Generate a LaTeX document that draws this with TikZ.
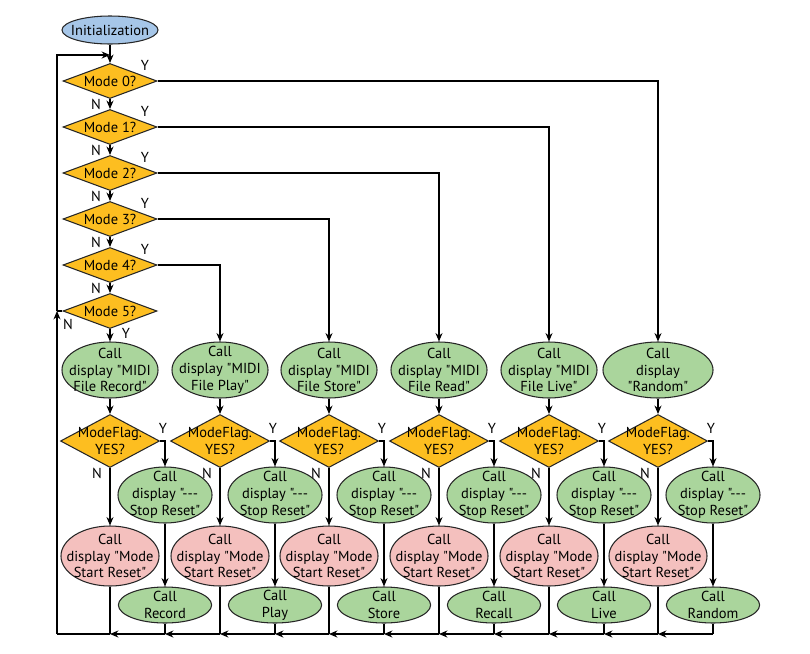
\documentclass[tikz,border=0pt]{standalone}
\usepackage{fontspec}
\setmainfont{PT Sans}[Ligatures=TeXOff]
\usetikzlibrary{shapes.geometric,arrows.meta}

\definecolor{initblue}{RGB}{166,198,232}
\definecolor{modegold}{RGB}{253,190,32}
\definecolor{callgreen}{RGB}{170,213,156}
\definecolor{resetpink}{RGB}{244,192,190}

\tikzset{
    wire/.style={line width=0.75pt},
    link/.style={wire, -{Stealth[length=6pt,width=5pt]}},
    boxline/.style={draw=black!85, line width=0.75pt, inner sep=-10pt, align=center,
        font=\fontsize{10.3}{12}\selectfont},
    oval/.style={boxline, ellipse},
    initoval/.style={oval, fill=initblue, minimum width=2.4cm, minimum height=0.7cm},
    showoval/.style={oval, fill=callgreen, minimum width=2.4cm, minimum height=1.4cm},
    stopoval/.style={oval, fill=callgreen, minimum width=2.35cm, minimum height=1.4cm},
    startoval/.style={oval, fill=resetpink, minimum width=2.45cm, minimum height=1.5cm},
    actoval/.style={oval, fill=callgreen, minimum width=2.33cm, minimum height=0.9cm},
    modebox/.style={boxline, diamond, fill=modegold, minimum width=2.35cm, minimum height=0.875cm},
    flagbox/.style={modebox, minimum width=2.475cm, minimum height=1.325cm},
    yn/.style={inner sep=0pt, font=\fontsize{10.3}{12}\selectfont}
}

\begin{document}
\begin{tikzpicture}[x=0.025cm, y=-0.025cm]
        \useasboundingbox (0,0) rectangle (810,653);

        \node[initoval] (init) at (110, 30) {Initialization};
        \node[modebox] (mode0) at (110, 81) {Mode 0?};
        \node[modebox] (mode1) at (110,127) {Mode 1?};
        \node[modebox] (mode2) at (110,173) {Mode 2?};
        \node[modebox] (mode3) at (110,219) {Mode 3?};
        \node[modebox] (mode4) at (110,265) {Mode 4?};
        \node[modebox] (mode5) at (110,311) {Mode 5?};

        \node[yn] (y0) at (145, 65) {Y};
        \node[yn] (y1) at (145,111) {Y};
        \node[yn] (y2) at (145,157) {Y};
        \node[yn] (y3) at (145,203) {Y};
        \node[yn] (y4) at (145,249) {Y};
        \node[yn] (y5) at (126,333) {Y};
        \node[yn] (n0) at ( 96,104) {N};
        \node[yn] (n1) at ( 96,150) {N};
        \node[yn] (n2) at ( 96,196) {N};
        \node[yn] (n3) at ( 96,242) {N};
        \node[yn] (n4) at ( 96,288) {N};
        \node[yn] (n5) at ( 68,324) {N};

        \node[showoval] (show0) at (110,370) {Call\\display "MIDI\\File Record"};
        \node[showoval] (show1) at (220,370) {Call\\display "MIDI\\File Play"};
        \node[showoval] (show2) at (329,370) {Call\\display "MIDI\\File Store"};
        \node[showoval] (show3) at (439,370) {Call\\display "MIDI\\File Read"};
        \node[showoval] (show4) at (549,370) {Call\\display "MIDI\\File Live"};
        \node[showoval, minimum width=2.75cm] (show5) at (658,370) {Call\\display\\"Random"};

        \node[flagbox] (flag0) at (110,441) {ModeFlag.\\YES?};
        \node[flagbox] (flag1) at (220,441) {ModeFlag.\\YES?};
        \node[flagbox] (flag2) at (329,441) {ModeFlag.\\YES?};
        \node[flagbox] (flag3) at (439,441) {ModeFlag.\\YES?};
        \node[flagbox] (flag4) at (549,441) {ModeFlag.\\YES?};
        \node[flagbox] (flag5) at (658,441) {ModeFlag.\\YES?};

        \node[yn] (fy0) at (163,428) {Y};
        \node[yn] (fy1) at (273,428) {Y};
        \node[yn] (fy2) at (382,428) {Y};
        \node[yn] (fy3) at (492,428) {Y};
        \node[yn] (fy4) at (602,428) {Y};
        \node[yn] (fy5) at (711,428) {Y};
        \node[yn] (fn0) at ( 97,473) {N};
        \node[yn] (fn1) at (207,473) {N};
        \node[yn] (fn2) at (316,473) {N};
        \node[yn] (fn3) at (426,473) {N};
        \node[yn] (fn4) at (536,473) {N};
        \node[yn] (fn5) at (645,473) {N};

        \node[stopoval] (stop0) at (165,495) {Call\\display "---\\Stop Reset"};
        \node[stopoval] (stop1) at (275,495) {Call\\display "---\\Stop Reset"};
        \node[stopoval] (stop2) at (384,495) {Call\\display "---\\Stop Reset"};
        \node[stopoval] (stop3) at (494,495) {Call\\display "---\\Stop Reset"};
        \node[stopoval] (stop4) at (604,495) {Call\\display "---\\Stop Reset"};
        \node[stopoval] (stop5) at (713,495) {Call\\display "---\\Stop Reset"};

        \node[startoval] (start0) at (110,556) {Call\\display "Mode\\Start Reset"};
        \node[startoval] (start1) at (220,556) {Call\\display "Mode\\Start Reset"};
        \node[startoval] (start2) at (329,556) {Call\\display "Mode\\Start Reset"};
        \node[startoval] (start3) at (439,556) {Call\\display "Mode\\Start Reset"};
        \node[startoval] (start4) at (549,556) {Call\\display "Mode\\Start Reset"};
        \node[startoval] (start5) at (658,556) {Call\\display "Mode\\Start Reset"};

        \node[actoval] (act0) at (165,605) {Call\\Record};
        \node[actoval] (act1) at (275,605) {Call\\Play};
        \node[actoval] (act2) at (384,605) {Call\\Store};
        \node[actoval] (act3) at (494,605) {Call\\Recall};
        \node[actoval] (act4) at (604,605) {Call\\Live};
        \node[actoval] (act5) at (713,605) {Call\\Random};

        \coordinate (j0) at (110,634);
        \coordinate (j1) at (220,634);
        \coordinate (j2) at (329,634);
        \coordinate (j3) at (439,634);
        \coordinate (j4) at (549,634);
        \coordinate (j5) at (658,634);
        \coordinate (k0) at (165,634);
        \coordinate (k1) at (275,634);
        \coordinate (k2) at (384,634);
        \coordinate (k3) at (494,634);
        \coordinate (k4) at (604,634);
        \coordinate (k5) at (713,634);
        \coordinate (corner) at (57,634);
        \coordinate (loop) at (57,311);
        \coordinate (entry) at (110,55);

        \draw[link] (init) -- (mode0);
        \draw[link] (mode0) -- (mode1);
        \draw[link] (mode1) -- (mode2);
        \draw[link] (mode2) -- (mode3);
        \draw[link] (mode3) -- (mode4);
        \draw[link] (mode4) -- (mode5);
        \draw[link] (mode0.east) -| (show5.north);
        \draw[link] (mode1.east) -| (show4.north);
        \draw[link] (mode2.east) -| (show3.north);
        \draw[link] (mode3.east) -| (show2.north);
        \draw[link] (mode4.east) -| (show1.north);
        \draw[link] (mode5) -- (show0);
        \draw[wire] (mode5.west) -- (loop);
        \draw[link] (loop) |- (entry);

        \draw[link] (show0) -- (flag0);
        \draw[link] (show1) -- (flag1);
        \draw[link] (show2) -- (flag2);
        \draw[link] (show3) -- (flag3);
        \draw[link] (show4) -- (flag4);
        \draw[link] (show5) -- (flag5);

        \draw[link] (flag0) -- (start0);
        \draw[link] (flag1) -- (start1);
        \draw[link] (flag2) -- (start2);
        \draw[link] (flag3) -- (start3);
        \draw[link] (flag4) -- (start4);
        \draw[link] (flag5) -- (start5);
        \draw[link] (flag0.east) -| (stop0.north);
        \draw[link] (flag1.east) -| (stop1.north);
        \draw[link] (flag2.east) -| (stop2.north);
        \draw[link] (flag3.east) -| (stop3.north);
        \draw[link] (flag4.east) -| (stop4.north);
        \draw[link] (flag5.east) -| (stop5.north);

        \draw[link] (stop0) -- (act0);
        \draw[link] (stop1) -- (act1);
        \draw[link] (stop2) -- (act2);
        \draw[link] (stop3) -- (act3);
        \draw[link] (stop4) -- (act4);
        \draw[link] (stop5) -- (act5);

        \draw[wire] (start0) -- (j0);
        \draw[wire] (start1) -- (j1);
        \draw[wire] (start2) -- (j2);
        \draw[wire] (start3) -- (j3);
        \draw[wire] (start4) -- (j4);
        \draw[wire] (start5) -- (j5);
        \draw[wire] (act0) -- (k0);
        \draw[wire] (act1) -- (k1);
        \draw[wire] (act2) -- (k2);
        \draw[wire] (act3) -- (k3);
        \draw[wire] (act4) -- (k4);
        \draw[wire] (act5) -- (k5);

        \draw[link] (k5) -- (j5);
        \draw[link] (j5) -- (k4);
        \draw[link] (k4) -- (j4);
        \draw[link] (j4) -- (k3);
        \draw[link] (k3) -- (j3);
        \draw[link] (j3) -- (k2);
        \draw[link] (k2) -- (j2);
        \draw[link] (j2) -- (k1);
        \draw[link] (k1) -- (j1);
        \draw[link] (j1) -- (k0);
        \draw[link] (k0) -- (j0);
        \draw[wire] (j0) -- (corner);
        \draw[link] (corner) -- (loop);
    \end{tikzpicture}
\end{document}
